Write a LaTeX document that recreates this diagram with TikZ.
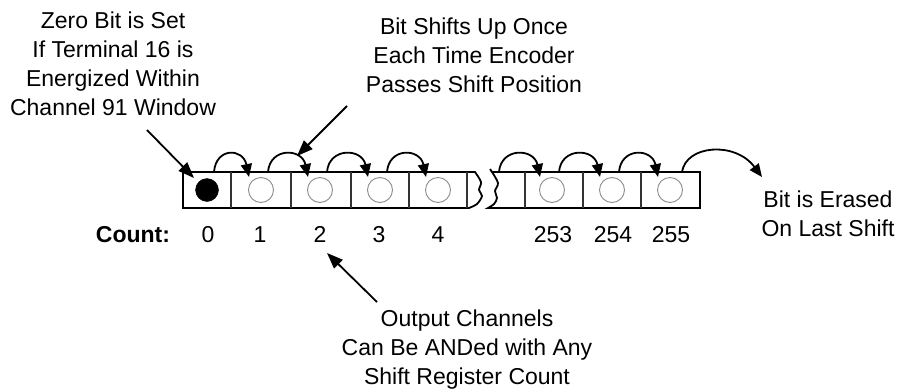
\documentclass[tikz,border=0pt]{standalone}
\usepackage{fontspec}
\setmainfont{Liberation Sans}
\usetikzlibrary{arrows.meta}
\begin{document}
\begin{tikzpicture}[x=1pt,y=-1pt,
  note/.style={font=\fontsize{23}{29}\selectfont, align=center, inner sep=0pt},
  countlbl/.style={font=\fontsize{23}{29}\selectfont, inner sep=0pt, anchor=base},
  regline/.style={line width=1.8pt, line join=miter},
  divider/.style={line width=1.1pt, black!80},
  bitoff/.style={circle, draw=black!45, line width=0.9pt, minimum size=25pt, inner sep=0pt},
  biton/.style={circle, draw=black, fill=black, minimum size=23pt, inner sep=0pt},
  pointer/.style={line width=1.8pt, -{Triangle[length=16pt,width=12pt]}},
  shiftarc/.style={line width=1.8pt, -{Triangle[length=13pt,width=11pt]}}
]
\useasboundingbox (0,0) rectangle (900,391);

% register, left part with broken right end
\draw[regline] (183,208) -- (183,172) -- (475,172)
  -- plot[smooth] coordinates {(475,172) (481,182) (479,190) (482,196) (477,204) (469,208)}
  -- cycle;
% register, right part with broken left end
\draw[regline] (488,208)
  -- plot[smooth] coordinates {(488,208) (494,204) (497,198) (495,191) (498,183) (492,172)}
  -- (700,172) -- (700,208) -- cycle;
\draw[regline] (490,169) -- (492,172);

% cell walls
\foreach \x in {231,291,351,409,467,525,583,641}
  \draw[divider] (\x,172) -- (\x,208);

% bits
\node[biton]  (c0)   at (207,190) {};
\node[bitoff] (c1)   at (261,190) {};
\node[bitoff] (c2)   at (320,190) {};
\node[bitoff] (c3)   at (380,190) {};
\node[bitoff] (c4)   at (438,190) {};
\node[bitoff] (c253) at (552,190) {};
\node[bitoff] (c254) at (612,190) {};
\node[bitoff] (c255) at (670,190) {};
\coordinate (cbrk) at (492,190);

% shift arcs between neighbouring cells
\foreach \a/\b in {c0/c1,c1/c2,c2/c3,c3/c4,cbrk/c253,c253/c254,c254/c255}
  \draw[shiftarc] ([shift={(7,-18)}]\a.center)
     .. controls +(2,-25) and +(-6,-29) .. ([shift={(-12,-13)}]\b.center);

% last bit drops out
\coordinate (gone) at (762,177);
\draw[shiftarc] ([shift={(12,-18)}]c255.center)
   .. controls +(4,-27) and +(-27,-36) .. (gone);

% count labels
\node[font=\fontsize{23}{29}\selectfont\bfseries, inner sep=0pt, anchor=base] (cnt) at (133,242) {Count:};
\node[countlbl] (n0)   at (208,242) {0};
\node[countlbl] (n1)   at (260,242) {1};
\node[countlbl] (n2)   at (320,242) {2};
\node[countlbl] (n3)   at (379,242) {3};
\node[countlbl] (n4)   at (438,242) {4};
\node[countlbl] (n253) at (553,242) {253};
\node[countlbl] (n254) at (613,242) {254};
\node[countlbl] (n255) at (671,242) {255};

% notes
\node[note] (zero) at (113,64) {Zero Bit is Set\\If Terminal 16 is\\Energized Within\\Channel 91 Window};
\node[note] (shift) at (474,55.5) {Bit Shifts Up Once\\Each Time Encoder\\Passes Shift Position};
\node[note] (erase) at (828,213.5) {Bit is Erased\\On Last Shift};
\node[note] (out) at (467,349.5) {Output Channels\\Can Be ANDed with Any\\Shift Register Count};

% pointers
\coordinate (zt) at (147,130);
\coordinate (st) at (347,106);
\coordinate (ot) at (377,302);
\coordinate (sh) at (297,156);
\coordinate (oh) at (327,253);
\draw[pointer] (zt) -- ([shift={(-13,-12)}]c0.center);
\draw[pointer] (st) -- (sh);
\draw[pointer] (ot) -- (oh);
\end{tikzpicture}
\end{document}
